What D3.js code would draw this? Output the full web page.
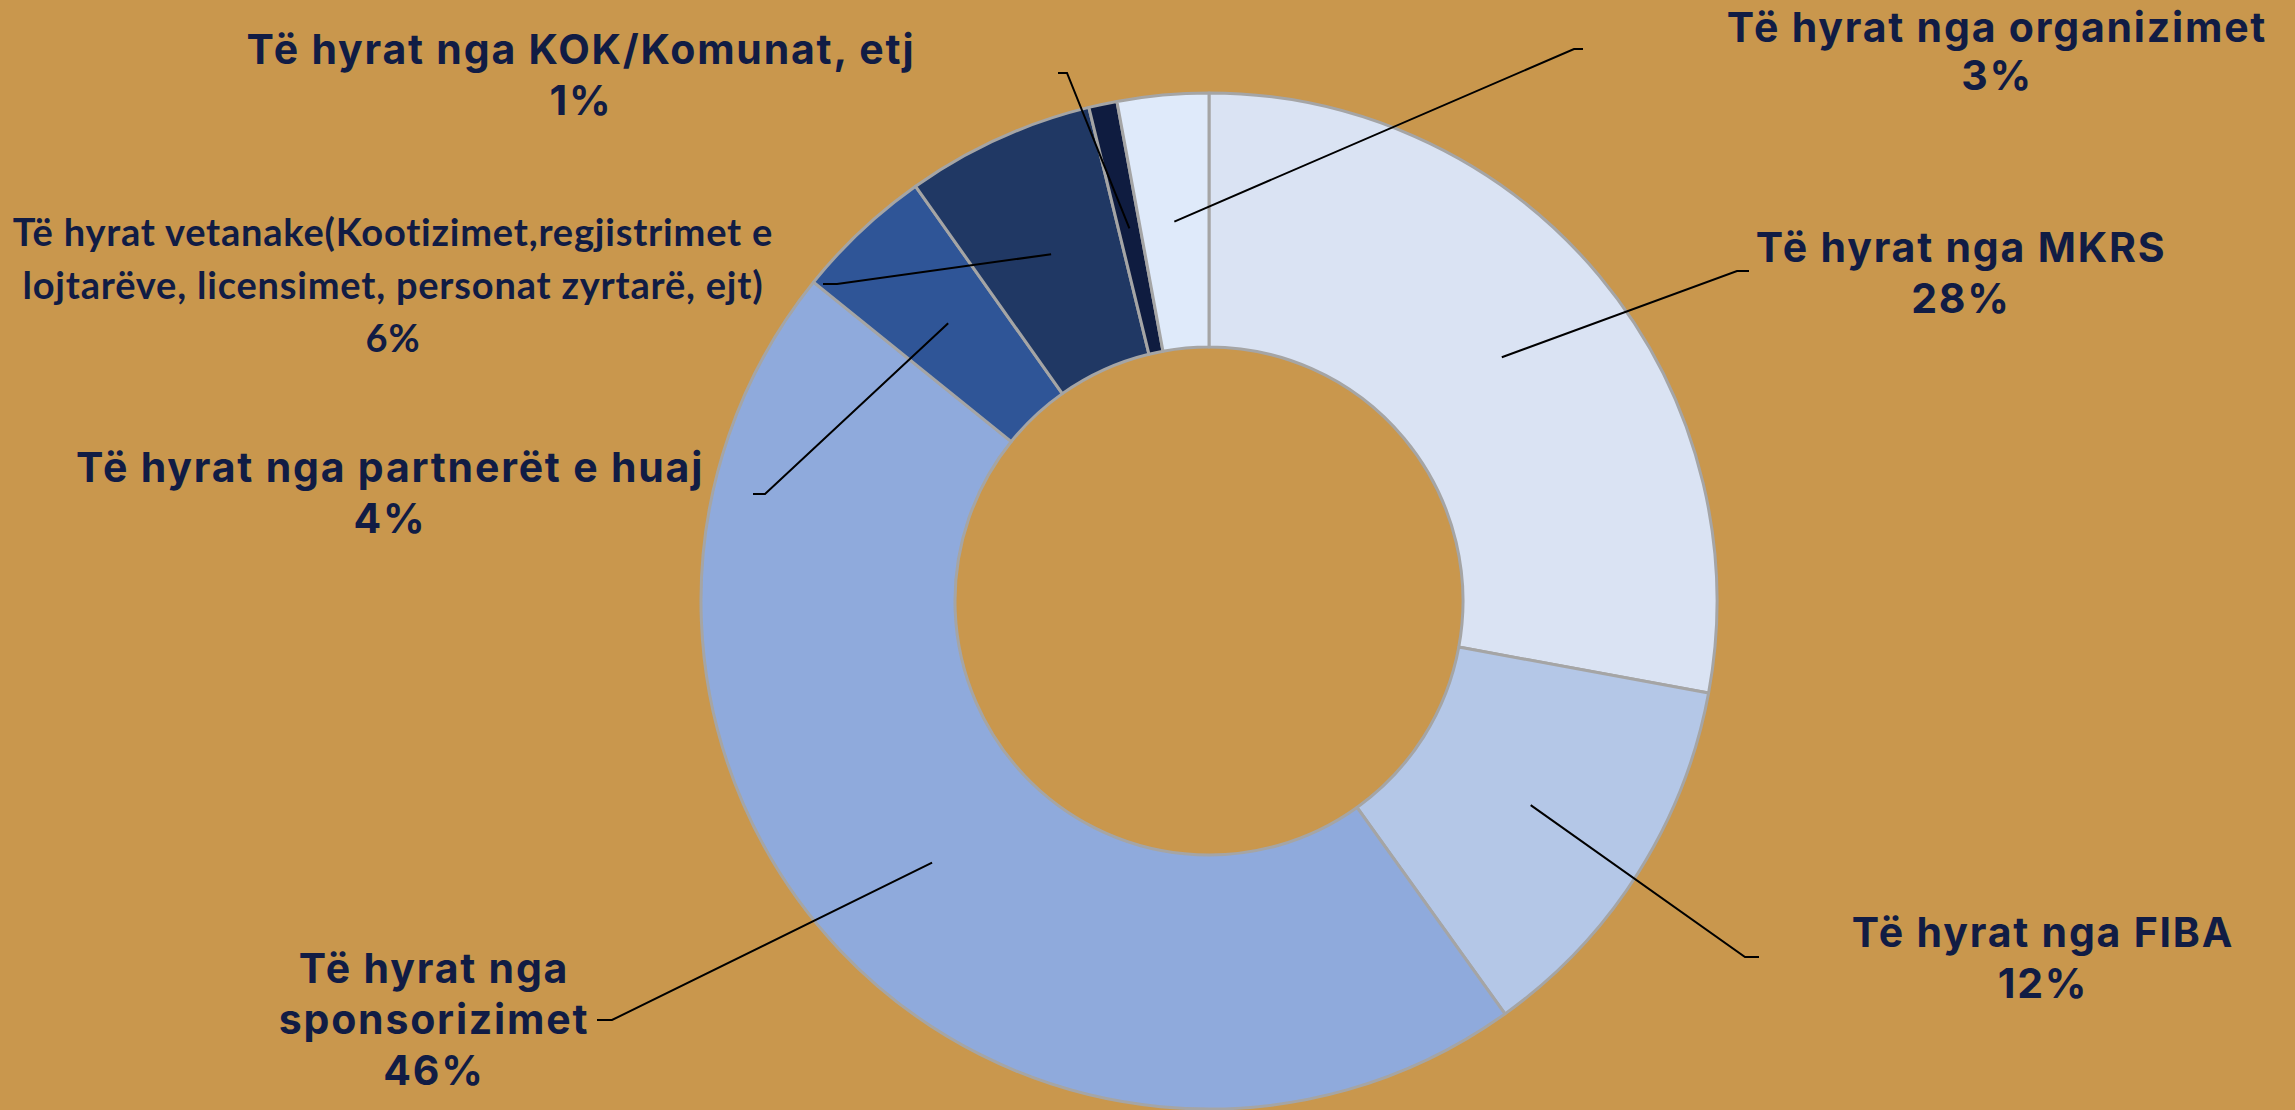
<!DOCTYPE html>
<html>
<head>
<meta charset="utf-8">
<script src="https://cdn.jsdelivr.net/npm/d3@7"></script>
<style>
  html, body { margin: 0; padding: 0; background: #c9974d; }
  svg { display: block; }
</style>
</head>
<body>
<div id="chart"></div>
<script>
// data
const categories = [
  "Të hyrat nga MKRS",
  "Të hyrat nga FIBA",
  "Të hyrat nga sponsorizimet",
  "Të hyrat nga partnerët e huaj",
  "Të hyrat vetanake(Kootizimet,regjistrimet e lojtarëve, licensimet, personat zyrtarë, ejt)",
  "Të hyrat nga KOK/Komunat, etj",
  "Të hyrat nga organizimet"
];
const shares = [27.9, 12.2, 45.7, 4.4, 6.0, 0.9, 2.9];
// how each label is broken into lines
const labelLines = [
  ["Të hyrat nga MKRS"],
  ["Të hyrat nga FIBA"],
  ["Të hyrat nga", "sponsorizimet"],
  ["Të hyrat nga partnerët e huaj"],
  ["Të hyrat vetanake(Kootizimet,regjistrimet e", "lojtarëve, licensimet, personat zyrtarë, ejt)"],
  ["Të hyrat nga KOK/Komunat, etj"],
  ["Të hyrat nga organizimet"]
];

const colors = ["#dae3f3", "#b4c7e7", "#8faadc", "#2f5597", "#203864", "#0f1c40", "#dfeafa"];

// label placement (text centre x, first baseline y, elbow x/y, tick end x)
const labelPos = [
  {x: 1961, y: 262, ex: 1737, ey: 271, tx: 1749},
  {x: 2043, y: 947, ex: 1745, ey: 957, tx: 1759},
  {x: 434,  y: 983, ex: 612,  ey: 1020, tx: 597},
  {x: 390,  y: 482, ex: 765,  ey: 494, tx: 753},
  {x: 393,  y: 246, ex: 837,  ey: 284, tx: 823},
  {x: 581,  y: 64,  ex: 1067, ey: 73,  tx: 1058},
  {x: 1997, y: 42,  ex: 1574, ey: 49,  tx: 1583}
];

const W = 2295, H = 1110;
const cx = 1209, cy = 601;
const outerRadius = 508, innerRadius = 254;

const svg = d3.select("#chart").append("svg")
  .attr("width", W)
  .attr("height", H);

svg.append("rect").attr("width", W).attr("height", H).attr("fill", "#c9974d");

const g = svg.append("g").attr("transform", `translate(${cx},${cy})`);

const data = categories.map((c, i) => ({name: c, value: shares[i], i: i}));

const pie = d3.pie().sort(null).value(d => d.value);
const arc = d3.arc().innerRadius(innerRadius).outerRadius(outerRadius);

const arcs = pie(data);

g.selectAll("path.slice")
  .data(arcs)
  .enter()
  .append("path")
  .attr("class", "slice")
  .attr("d", arc)
  .attr("fill", d => colors[d.index])
  .attr("stroke", "#a5a5a5")
  .attr("stroke-width", 3)
  .attr("stroke-linejoin", "round");

// leader lines
const total = d3.sum(shares);
svg.selectAll("polyline.leader")
  .data(arcs)
  .enter()
  .append("polyline")
  .attr("class", "leader")
  .attr("points", d => {
    const c = arc.centroid(d);
    const p = labelPos[d.index];
    return [[cx + c[0], cy + c[1]], [p.ex, p.ey], [p.tx, p.ey]].map(q => q.join(",")).join(" ");
  })
  .attr("fill", "none")
  .attr("stroke", "#000")
  .attr("stroke-width", 2);

// labels
const labels = svg.selectAll("text.label")
  .data(arcs)
  .enter()
  .append("text")
  .attr("class", "label")
  .attr("text-anchor", "middle")
  .attr("fill", "#111c44")
  .attr("font-family", d => d.index === 4 ? "Lato, 'Open Sans', sans-serif" : "Inter, 'Noto Sans', sans-serif")
  .attr("font-weight", 700)
  .attr("font-size", d => d.index === 4 ? 38 : 41)
  .attr("letter-spacing", d => d.index === 4 ? 0.8 : 1.8)
  .attr("x", d => labelPos[d.index].x)
  .attr("y", d => labelPos[d.index].y);

labels.each(function(d) {
  const t = d3.select(this);
  const lines = labelLines[d.index].concat([Math.round(d.data.value / total * 100) + "%"]);
  const lh = d.index === 4 ? 53 : (d.index === 6 ? 48 : 51);
  lines.forEach((s, k) => {
    t.append("tspan")
      .attr("x", labelPos[d.index].x)
      .attr("dy", k === 0 ? 0 : lh)
      .text(s);
  });
});
</script>
</body>
</html>
